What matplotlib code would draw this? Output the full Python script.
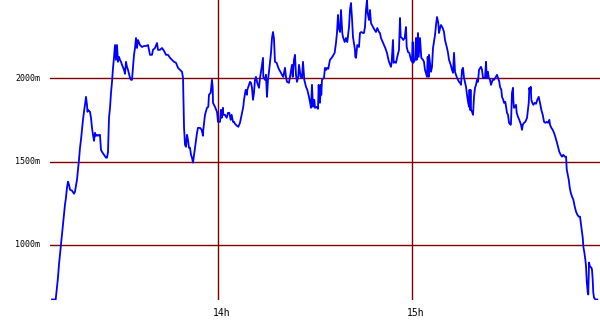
import matplotlib
matplotlib.use("Agg")
import matplotlib.pyplot as plt

# ====== 데이터 (13:00 부터 경과 분, 고도 m) ======
minutes = [
    8.57, 9.71, 10.11, 10.42, 10.73, 11.04, 11.35, 11.66, 11.97, 12.28, 12.58, 12.89, 13.20, 13.51,
    13.82, 14.13, 14.75, 15.37, 15.68, 15.99, 16.30, 16.61, 16.92, 17.23, 17.53, 17.84, 18.15, 18.46,
    18.77, 19.08, 19.39, 19.55, 19.70, 20.32, 20.63, 20.94, 21.25, 21.56, 21.87, 22.18, 22.49, 22.79,
    23.10, 23.41, 23.72, 24.03, 24.65, 25.27, 25.58, 25.89, 26.20, 26.51, 26.82, 27.13, 27.44, 27.74,
    28.05, 28.36, 28.67, 28.98, 29.29, 29.60, 29.91, 30.22, 30.84, 31.14, 31.45, 31.76, 32.07, 32.69,
    33.00, 33.31, 33.62, 33.93, 34.24, 34.55, 34.86, 35.17, 35.79, 36.40, 37.02, 37.64, 38.26, 38.88,
    39.50, 39.81, 40.42, 41.04, 41.35, 41.97, 42.59, 43.21, 43.83, 44.45, 45.07, 45.68, 46.30, 46.92,
    47.54, 48.16, 48.78, 49.09, 49.40, 49.71, 50.01, 50.32, 50.63, 50.94, 51.25, 51.56, 51.87, 52.18,
    52.80, 53.42, 53.72, 54.34, 54.87, 55.27, 55.36, 55.89, 56.50, 56.91, 57.12, 57.64, 58.05, 58.27,
    58.36, 58.98, 59.60, 59.91, 60.53, 60.83, 61.05, 61.45, 61.55, 62.07, 62.60, 63.00, 63.40, 63.84,
    64.14, 64.55, 64.86, 65.17, 65.78, 66.19, 66.71, 67.33, 67.73, 67.95, 68.47, 68.88, 68.97, 69.19,
    69.80, 70.11, 70.42, 70.73, 71.04, 71.35, 71.66, 72.06, 72.59, 72.90, 73.21, 73.83, 73.92, 74.44,
    74.75, 75.06, 75.37, 75.68, 75.99, 76.30, 76.61, 76.92, 77.23, 77.53, 78.05, 78.46, 78.86, 79.39,
    79.70, 80.10, 80.63, 80.93, 81.24, 81.86, 82.17, 82.79, 83.01, 83.41, 83.72, 84.03, 84.34, 84.74,
    84.96, 85.48, 85.89, 86.20, 86.60, 87.13, 87.53, 88.05, 88.36, 88.67, 88.98, 89.29, 89.69, 89.91,
    90.43, 90.84, 91.05, 91.24, 91.45, 91.76, 91.85, 92.07, 92.69, 93.00, 93.40, 93.62, 94.02, 94.54,
    95.07, 95.47, 95.99, 96.40, 96.71, 97.02, 97.24, 97.64, 97.95, 98.35, 98.57, 99.09, 99.50, 99.90,
    100.43, 100.73, 101.04, 101.35, 101.66, 102.28, 102.37, 102.59, 102.99, 103.52, 103.83, 104.23,
    104.76, 105.06, 105.37, 105.68, 105.99, 106.21, 106.61, 106.92, 107.23, 107.54, 107.85, 108.37,
    108.77, 109.18, 109.70, 110.01, 110.32, 110.85, 111.25, 111.65, 112.18, 112.49, 112.80, 113.41,
    113.63, 114.03, 114.25, 114.56, 114.96, 115.36, 115.89, 116.20, 116.41, 116.81, 117.22, 117.65,
    118.05, 118.27, 118.67, 119.08, 119.60, 119.91, 120.13, 120.31, 120.84, 121.15, 121.36, 121.77,
    121.98, 122.38, 122.79, 123.31, 123.62, 123.93, 124.55, 124.76, 125.08, 125.17, 125.79, 126.10,
    126.41, 127.03, 127.34, 127.65, 128.05, 128.27, 128.67, 128.88, 129.41, 129.81, 130.12, 130.74,
    131.05, 131.36, 131.88, 132.29, 132.60, 132.91, 133.22, 133.83, 134.14, 134.45, 134.76, 135.07,
    135.38, 135.69, 136.00, 136.62, 136.93, 137.24, 137.55, 137.70, 137.86, 138.01, 138.17, 138.48,
    138.79, 139.09, 139.40, 139.71, 140.02, 140.33, 140.64, 141.26, 141.57, 141.88, 142.50, 142.81,
    143.02, 143.42, 143.64, 144.04, 144.35, 144.87, 145.28, 145.68, 146.21, 146.52, 146.92, 147.13,
    147.54, 147.75, 148.15, 148.37, 148.77, 149.30, 149.61, 149.92, 150.44, 150.53, 150.84, 151.15,
    151.25, 151.46, 151.86, 152.08, 152.30, 152.70, 153.10, 153.63, 153.94, 154.16, 154.56, 154.96,
    155.49, 155.71, 156.02, 156.21, 156.42, 156.64, 156.82, 157.13, 157.44, 157.87, 158.27, 158.67,
    159.11, 159.29, 159.51, 159.91, 160.35, 160.75, 161.15, 161.59, 161.99, 162.39, 162.61, 163.01,
    163.44, 163.84, 164.24, 164.68, 165.08, 165.48, 165.92, 166.32, 166.72, 167.16, 167.56, 167.78,
    168.08, 168.39, 168.70, 169.01, 169.41, 169.81, 170.25, 170.65, 171.05, 171.49, 171.89, 172.11,
    172.41, 172.72, 172.91, 173.22, 173.52, 173.74, 173.96, 174.27, 174.44, 174.66, 174.96, 175.37,
    175.58, 175.80, 175.98, 176.20, 176.61, 177.23,
]
altitude = [
    672, 672, 744, 804, 882, 942, 1001, 1061, 1121, 1181, 1241, 1283, 1343, 1379,
    1361, 1331, 1325, 1307, 1319, 1355, 1391, 1451, 1511, 1582, 1630, 1690, 1750, 1798,
    1840, 1888, 1840, 1798, 1810, 1798, 1762, 1702, 1660, 1624, 1672, 1654, 1660, 1654,
    1660, 1660, 1570, 1558, 1540, 1523, 1523, 1558, 1762, 1822, 1912, 1978, 2062, 2122,
    2199, 2110, 2199, 2098, 2128, 2110, 2098, 2080, 2050, 2026, 2098, 2068, 2050, 2002,
    1990, 1990, 2062, 2140, 2181, 2241, 2181, 2229, 2199, 2187, 2193, 2193, 2199, 2140,
    2140, 2170, 2181, 2211, 2170, 2170, 2181, 2164, 2140, 2140, 2122, 2110, 2098, 2092,
    2062, 2050, 2038, 2002, 1708, 1600, 1588, 1660, 1630, 1582, 1582, 1540, 1523, 1493,
    1582, 1672, 1702, 1702, 1690, 1654, 1690, 1780, 1822, 1828, 1900, 1912, 1990, 1942,
    1852, 1828, 1798, 1738, 1738, 1810, 1762, 1822, 1780, 1780, 1762, 1792, 1792, 1750,
    1780, 1738, 1738, 1726, 1714, 1708, 1732, 1792, 1828, 1870, 1930, 1900, 1930, 1942,
    1978, 1972, 1942, 1870, 1912, 1990, 2008, 1972, 1942, 2002, 2038, 2122, 2008, 1990,
    2020, 1888, 1990, 2038, 2092, 2152, 2241, 2277, 2235, 2098, 2092, 2068, 2050, 2032,
    2020, 2008, 2062, 2008, 1978, 1972, 2008, 2080, 2008, 2110, 2140, 2020, 1978, 2008,
    2080, 2008, 2002, 2098, 1990, 1948, 1930, 1888, 1858, 1822, 1960, 1828, 1870, 1822,
    1828, 1816, 1960, 1870, 1852, 1960, 1900, 1990, 2002, 2062, 2050, 2062, 2056, 2110,
    2122, 2134, 2152, 2211, 2271, 2379, 2301, 2277, 2409, 2271, 2247, 2217, 2241, 2217,
    2307, 2409, 2451, 2361, 2247, 2170, 2128, 2122, 2199, 2187, 2271, 2277,
    2271, 2271, 2307, 2409, 2469, 2391, 2349, 2409, 2331, 2319, 2307, 2289,
    2277, 2301, 2277, 2271, 2241, 2217, 2199, 2181, 2152, 2122, 2098, 2068,
    2098, 2229, 2092, 2098, 2092, 2128, 2170, 2361, 2247, 2241, 2229, 2241,
    2307, 2187, 2157, 2152, 2110, 2098, 2217, 2092, 2110, 2241, 2110, 2271,
    2128, 2241, 2122, 2110, 2098, 2050, 2008, 2128, 2008, 2140, 2038, 2068,
    2181, 2259, 2319, 2367, 2331, 2271, 2307, 2319, 2301, 2277, 2229, 2181,
    2152, 2110, 2080, 2050, 2032, 2152, 2038, 2002, 1990, 1978, 1972, 1960,
    2050, 2062, 2002, 1948, 1900, 1858, 1828, 1930, 1810, 1930, 1810, 1798,
    1780, 1888, 1942, 1960, 1990, 1978, 2050, 2068, 2050, 2002, 2002, 2098,
    2002, 2038, 2002, 1990, 1960, 1990, 1990, 2002, 2020, 2002, 1978, 1948,
    1930, 1888, 1870, 1852, 1858, 1792, 1780, 1732, 1720, 1732, 1912, 1942,
    1870, 1822, 1828, 1840, 1792, 1768, 1750, 1720, 1690, 1720, 1732, 1738,
    1762, 1798, 1852, 1942, 1918, 1948, 1870, 1852, 1840, 1852, 1846, 1870,
    1888, 1870, 1852, 1810, 1780, 1738, 1732, 1738, 1732, 1750, 1720, 1702,
    1690, 1672, 1648, 1618, 1588, 1558, 1540, 1529, 1540, 1529, 1529, 1451,
    1421, 1391, 1343, 1313, 1289, 1271, 1229, 1199, 1181, 1169, 1169, 1133,
    1091, 1043, 989, 954, 912, 870, 780, 714, 702, 894, 870, 864,
    852, 792, 714, 684, 672, 672,
]

y_ticks = [1000, 1500, 2000]
y_labels = ["1000m", "1500m", "2000m"]
x_ticks = [60, 120]
x_labels = ["14h", "15h"]

GRID_COLOR = "#800000"

# ====== 그림 ======
fig = plt.figure(figsize=(6, 3.3), dpi=100)
ax = fig.add_axes([50 / 600, 30 / 330, 550 / 600, 300 / 330])

for v in y_ticks:
    ax.axhline(v, color=GRID_COLOR, lw=1.0, zorder=1)
for v in x_ticks:
    ax.axvline(v, color=GRID_COLOR, lw=1.0, zorder=1)

ax.plot(minutes, altitude, color="#0000ff", lw=1.3, zorder=2)

ax.set_xlim(7.95, 178.06)
ax.set_ylim(669, 2469)

for s in ax.spines.values():
    s.set_visible(False)
ax.set_xticks([])
ax.set_yticks([])

# 축 라벨 (플롯 영역 바깥)
for v, lab in zip(y_ticks, y_labels):
    ax.annotate(lab, xy=(0, v), xycoords=("axes fraction", "data"),
                xytext=(-10, 0), textcoords="offset pixels",
                ha="right", va="center", fontsize=6, family="DejaVu Sans Mono")
for v, lab in zip(x_ticks, x_labels):
    ax.annotate(lab, xy=(v, 0), xycoords=("data", "axes fraction"),
                xytext=(3, -13), textcoords="offset pixels",
                ha="center", va="center", fontsize=7, family="DejaVu Sans Mono")

fig.savefig("out.png", dpi=100)
